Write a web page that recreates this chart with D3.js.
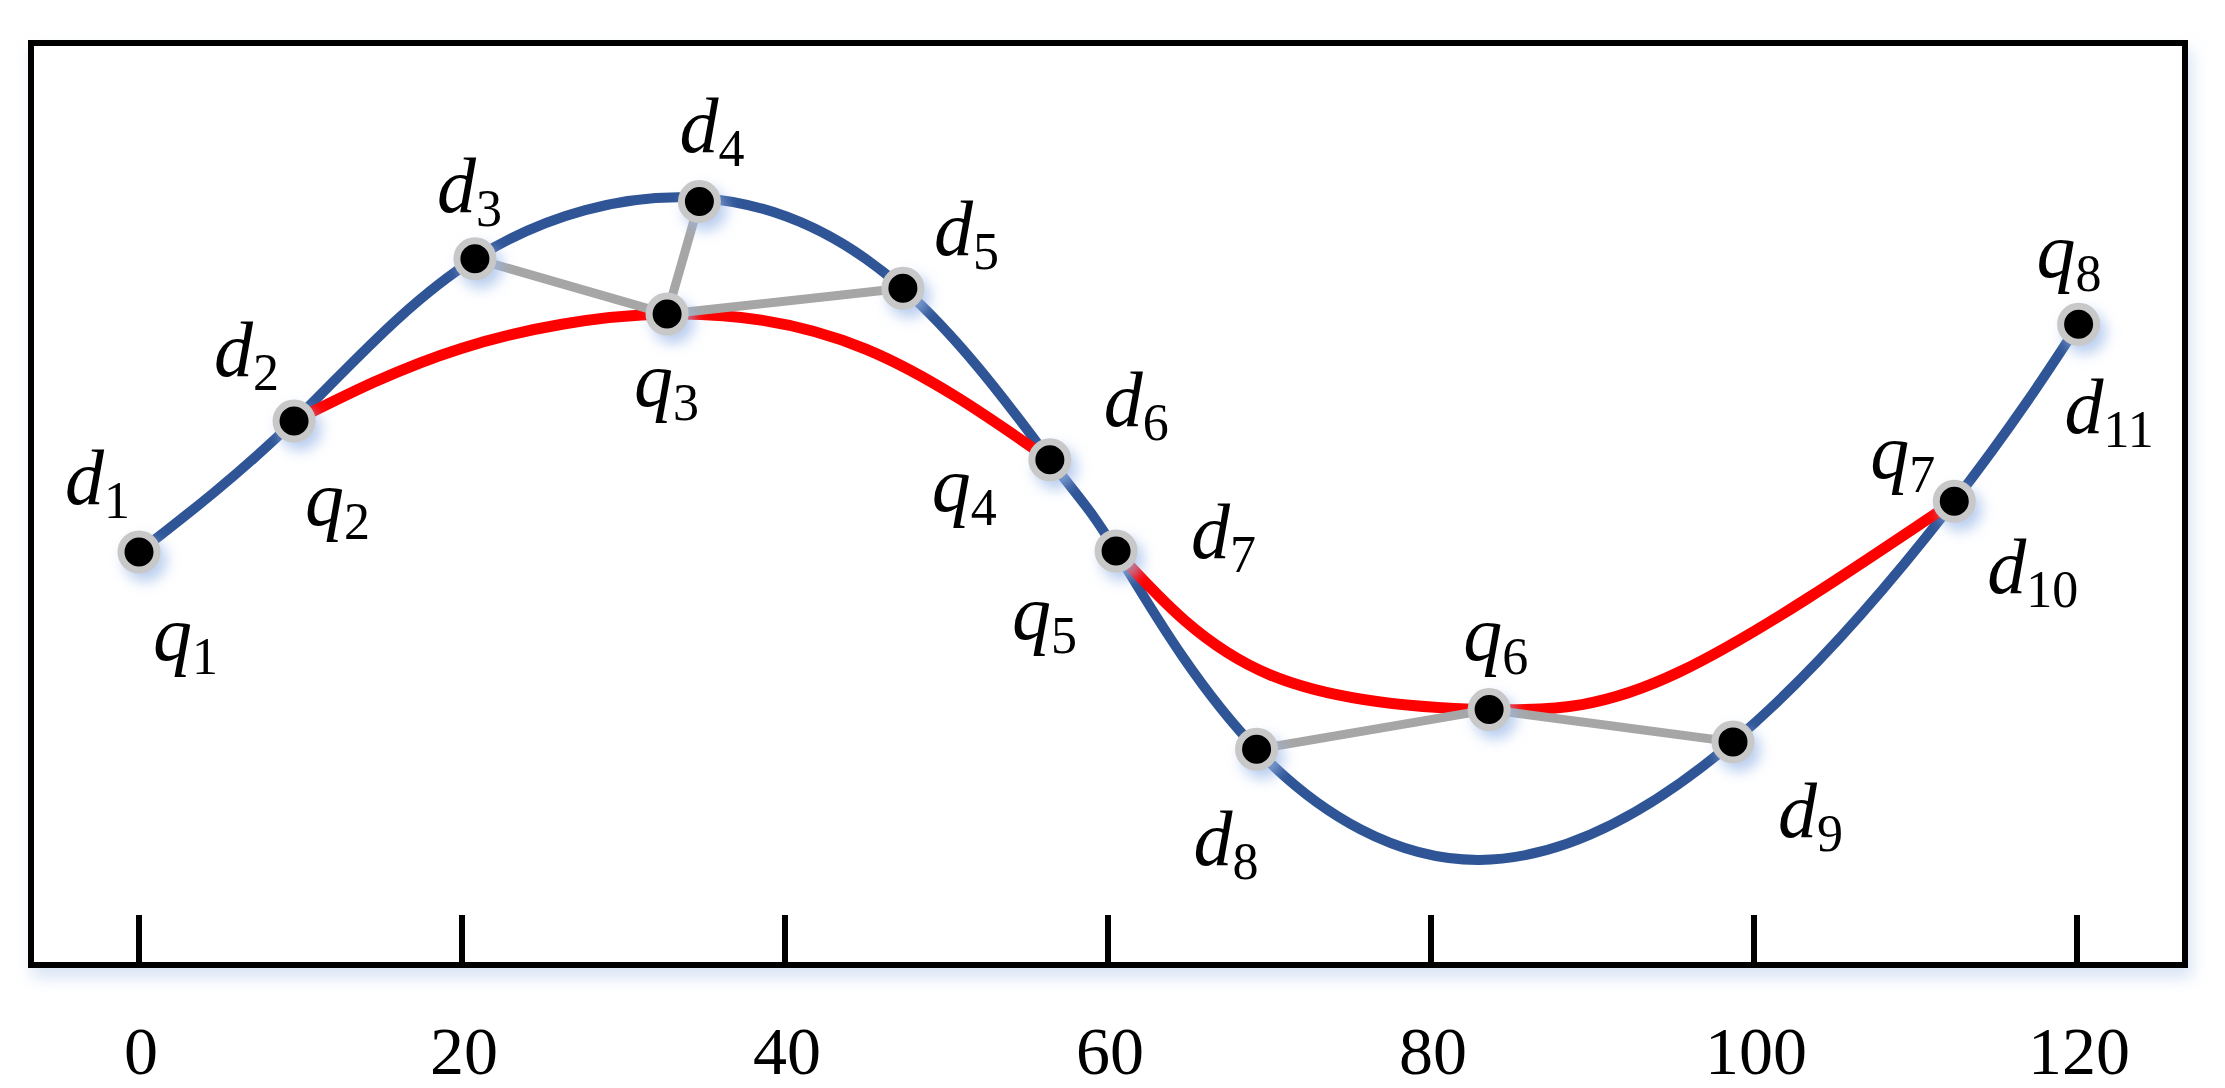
<!DOCTYPE html>
<html>
<head>
<meta charset="utf-8">
<script src="https://d3js.org/d3.v7.min.js"></script>
<style>
  body { margin: 0; background: #fff; }
</style>
</head>
<body>
<div id="chart"></div>
<script>
// data points (x in axis units, y in relative height units 0-100)
const dNames = ["d1","d2","d3","d4","d5","d6","d7","d8","d9","d10","d11"];
const dX = [0, 9.6, 20.8, 34.7, 47.3, 56.4, 60.5, 69.2, 98.7, 112.4, 120.1];
const dY = [44.8, 59.0, 76.6, 82.8, 73.4, 54.8, 44.9, 23.4, 24.2, 50.3, 69.5];

const qNames = ["q1","q2","q3","q4","q5","q6","q7","q8"];
const qX = [0, 9.6, 32.7, 56.4, 60.5, 83.6, 112.4, 120.1];
const qY = [44.8, 59.0, 70.6, 54.8, 44.9, 27.7, 50.3, 69.5];

// blue curve through the d points (with the trough)
const blueX = [0, 9.6, 20.8, 34.7, 47.3, 56.4, 60.5, 69.2, 83, 98.7, 112.4, 120.1];
const blueY = [44.8, 59.0, 76.6, 83.2, 73.4, 54.8, 44.9, 23.4, 11.4, 24.2, 50.3, 69.5];

// red curves q2-q3-q4 and q5-q6-q7
const red1X = [9.6, 20, 32.7, 45, 56.4];
const red1Y = [59.0, 66.9, 70.6, 66.8, 54.8];
const red2X = [60.5, 70, 83.6, 95.4, 112.4];
const red2Y = [44.9, 31.5, 27.7, 31.8, 50.3];

// grey connectors [from, to]
const links = [["d3","q3"],["d4","q3"],["d5","q3"],["d8","q6"],["d9","q6"]];

const xTicks = [0, 20, 40, 60, 80, 100, 120];

// label offsets from the point (px)
const labelOffsets = {
  d1:[-74,-48], d2:[-80,-45], d3:[-38,-47], d4:[-20,-50], d5:[31,-33], d6:[54,-34],
  d7:[75,7], d8:[-63,116], d9:[45,95], d10:[33,92], d11:[-14,109],
  q1:[14,108], q2:[11,104], q3:[-33,92], q4:[-118,51], q5:[-104,88], q6:[-26,-50],
  q7:[-84,-23], q8:[-42,-47]
};

const W = 2225, H = 1088;
const frame = { left: 31, right: 2185, top: 43, bottom: 965 };

const svg = d3.select("#chart").append("svg")
    .attr("width", W).attr("height", H);

const defs = svg.append("defs");
const glow = defs.append("filter").attr("id", "glow")
    .attr("x", "-100%").attr("y", "-100%").attr("width", "300%").attr("height", "300%");
glow.append("feDropShadow").attr("dx", 6).attr("dy", 8).attr("stdDeviation", 7)
    .attr("flood-color", "#9ab8e8").attr("flood-opacity", 0.7);

const inner = defs.append("filter").attr("id", "frameGlow")
    .attr("x", "-5%").attr("y", "-5%").attr("width", "110%").attr("height", "115%");
inner.append("feDropShadow").attr("dx", 4).attr("dy", 10).attr("stdDeviation", 8)
    .attr("flood-color", "#c8d8f0").attr("flood-opacity", 0.7);

const x = d3.scaleLinear().domain([0, 120]).range([139, 2077]);
const y = d3.scaleLinear().domain([0, 100]).range([frame.bottom, frame.top]);

const serif = "'Liberation Serif', 'Times New Roman', Times, serif";

// frame
svg.append("rect")
    .attr("x", frame.left).attr("y", frame.top)
    .attr("width", frame.right - frame.left).attr("height", frame.bottom - frame.top)
    .attr("fill", "#fff").attr("stroke", "#000").attr("stroke-width", 6)
    .attr("filter", "url(#frameGlow)");

// ticks + labels
const axis = svg.append("g");
axis.selectAll("line").data(xTicks).enter().append("line")
    .attr("x1", d => x(d)).attr("x2", d => x(d))
    .attr("y1", 915).attr("y2", frame.bottom)
    .attr("stroke", "#000").attr("stroke-width", 6);
axis.selectAll("text").data(xTicks).enter().append("text")
    .attr("x", d => x(d) + 2).attr("y", 1074)
    .attr("text-anchor", "middle")
    .style("font-family", serif)
    .style("font-size", "68px")
    .text(d => d);

const line = d3.line()
    .x(d => x(d[0])).y(d => y(d[1]))
    .curve(d3.curveNatural);

const zip = (a, b) => a.map((v, i) => [v, b[i]]);

svg.append("path").datum(zip(blueX, blueY))
    .attr("d", line).attr("fill", "none")
    .attr("stroke", "#2f5597").attr("stroke-width", 10);

[zip(red1X, red1Y), zip(red2X, red2Y)].forEach(pts => {
  svg.append("path").datum(pts)
      .attr("d", line).attr("fill", "none")
      .attr("stroke", "#ff0000").attr("stroke-width", 11);
});

// lookup of every named point
const pos = {};
dNames.forEach((n, i) => pos[n] = [dX[i], dY[i]]);
qNames.forEach((n, i) => pos[n] = [qX[i], qY[i]]);

svg.selectAll(".link").data(links).enter().append("line")
    .attr("class", "link")
    .attr("x1", d => x(pos[d[0]][0])).attr("y1", d => y(pos[d[0]][1]))
    .attr("x2", d => x(pos[d[1]][0])).attr("y2", d => y(pos[d[1]][1]))
    .attr("stroke", "#a6a6a6").attr("stroke-width", 9);

// unique point positions
const uniq = [];
Object.values(pos).forEach(p => {
  if (!uniq.some(u => u[0] === p[0] && u[1] === p[1])) uniq.push(p);
});
svg.selectAll(".pt").data(uniq).enter().append("circle")
    .attr("class", "pt")
    .attr("cx", d => x(d[0])).attr("cy", d => y(d[1]))
    .attr("r", 18)
    .attr("fill", "#000").attr("stroke", "#c8c8c8").attr("stroke-width", 7)
    .attr("filter", "url(#glow)");

// labels
const labels = svg.selectAll(".lab").data(Object.keys(labelOffsets)).enter().append("text")
    .attr("class", "lab")
    .attr("x", d => x(pos[d][0]) + labelOffsets[d][0])
    .attr("y", d => y(pos[d][1]) + labelOffsets[d][1])
    .style("font-family", serif)
    .style("font-size", "78px");
labels.append("tspan").style("font-style", "italic").text(d => d[0]);
labels.append("tspan").attr("dy", 14).style("font-size", "52px").text(d => d.slice(1));
</script>
</body>
</html>
